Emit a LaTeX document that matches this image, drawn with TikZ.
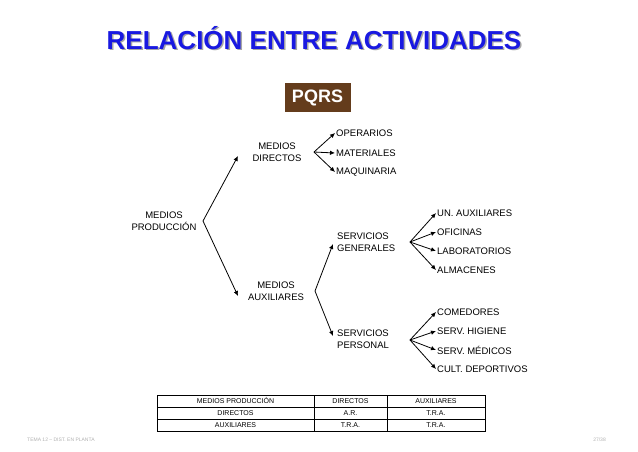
\documentclass[tikz,border=0pt]{standalone}
\usepackage{fontspec}
\setmainfont{Liberation Sans}
\usetikzlibrary{arrows.meta}
\definecolor{titleblue}{RGB}{25,25,225}
\definecolor{pqrsbrown}{RGB}{100,60,28}
\tikzset{
  lbl/.style={inner sep=1pt, font=\fontsize{9.5}{12.5}\selectfont, align=center},
  item/.style={inner sep=1pt, anchor=west, font=\fontsize{9.5}{12.5}\selectfont},
  conn/.style={line width=0.8pt, -{Latex[length=5pt,width=4.5pt]}},
  cell/.style={draw, line width=0.8pt, minimum height=12pt, inner sep=0pt, text height=5pt, text depth=1pt, font=\fontsize{7}{8}\selectfont},
  foot/.style={inner sep=0pt, text=black!30, font=\fontsize{5}{6}\selectfont}
}
\begin{document}
\begin{tikzpicture}[x=1pt,y=-1pt]
\useasboundingbox (0,0) rectangle (638,451);
\fill[white] (0,0) rectangle (638,451);
% title
\node[inner sep=0pt, text=black!35, font=\fontsize{26}{30}\selectfont\bfseries] at (315.5,39.5) {RELACIÓN ENTRE ACTIVIDADES};
\node[inner sep=0pt, text=titleblue, font=\fontsize{26}{30}\selectfont\bfseries] (title) at (314,38) {RELACIÓN ENTRE ACTIVIDADES};
% PQRS
\node[fill=pqrsbrown, text=white, minimum width=66pt, minimum height=29pt, inner sep=0pt, font=\fontsize{18}{20}\selectfont\bfseries] (pqrs) at (317.5,97.5) {PQRS};
% main nodes
\node[lbl] (mp) at (164,221) {MEDIOS\\PRODUCCIÓN};
\node[lbl] (mdir) at (277,152) {MEDIOS\\DIRECTOS};
\node[lbl] (maux) at (276,291) {MEDIOS\\AUXILIARES};
\node[lbl, align=left, anchor=west] (sg) at (336,242) {SERVICIOS\\GENERALES};
\node[lbl, align=left, anchor=west] (sp) at (336,339) {SERVICIOS\\PERSONAL};
% leaves
\node[item] (oper) at (335,133) {OPERARIOS};
\node[item] (mate) at (335,153) {MATERIALES};
\node[item] (maqu) at (335,172) {MAQUINARIA};
\node[item] (unau) at (436,213) {UN. AUXILIARES};
\node[item] (ofic) at (436,232) {OFICINAS};
\node[item] (labo) at (436,251) {LABORATORIOS};
\node[item] (alma) at (436,270) {ALMACENES};
\node[item] (come) at (436,312) {COMEDORES};
\node[item] (higi) at (436,331) {SERV. HIGIENE};
\node[item] (medi) at (436,350) {SERV. MÉDICOS};
\node[item] (cult) at (436,369) {CULT. DEPORTIVOS};
% vertices
\coordinate (mpv) at (203,221);
\coordinate (mdv) at (314,152);
\coordinate (mav) at (315,291);
\coordinate (sgv) at (410,242);
\coordinate (spv) at (410,340);
\coordinate (mdtip) at (238,156);
\coordinate (matip) at (238,296);
\coordinate (sgtip) at (333,244);
\coordinate (sptip) at (333,336);
% connectors
\draw[conn] (mpv) -- (mdtip);
\draw[conn] (mpv) -- (matip);
\draw[conn] (mav) -- (sgtip);
\draw[conn] (mav) -- (sptip);
\foreach \t in {oper,mate,maqu} \draw[conn] (mdv) -- (\t.west);
\foreach \t in {unau,ofic,labo,alma} \draw[conn] (sgv) -- (\t.west);
\foreach \t in {come,higi,medi,cult} \draw[conn] (spv) -- (\t.west);
% table
\node[cell, minimum width=157pt] (t11) at (235.5,401) {MEDIOS PRODUCCIÓN};
\node[cell, minimum width=73pt] (t12) at (350.5,401) {DIRECTOS};
\node[cell, minimum width=98pt] (t13) at (436,401) {AUXILIARES};
\node[cell, minimum width=157pt] (t21) at (235.5,413) {DIRECTOS};
\node[cell, minimum width=73pt] (t22) at (350.5,413) {A.R.};
\node[cell, minimum width=98pt] (t23) at (436,413) {T.R.A.};
\node[cell, minimum width=157pt] (t31) at (235.5,425) {AUXILIARES};
\node[cell, minimum width=73pt] (t32) at (350.5,425) {T.R.A.};
\node[cell, minimum width=98pt] (t33) at (436,425) {T.R.A.};
% footer
\node[foot, anchor=west] (f1) at (27,440) {TEMA 12 – DIST. EN PLANTA};
\node[foot, anchor=east] (f2) at (606,440) {27/38};
\end{tikzpicture}
\end{document}
